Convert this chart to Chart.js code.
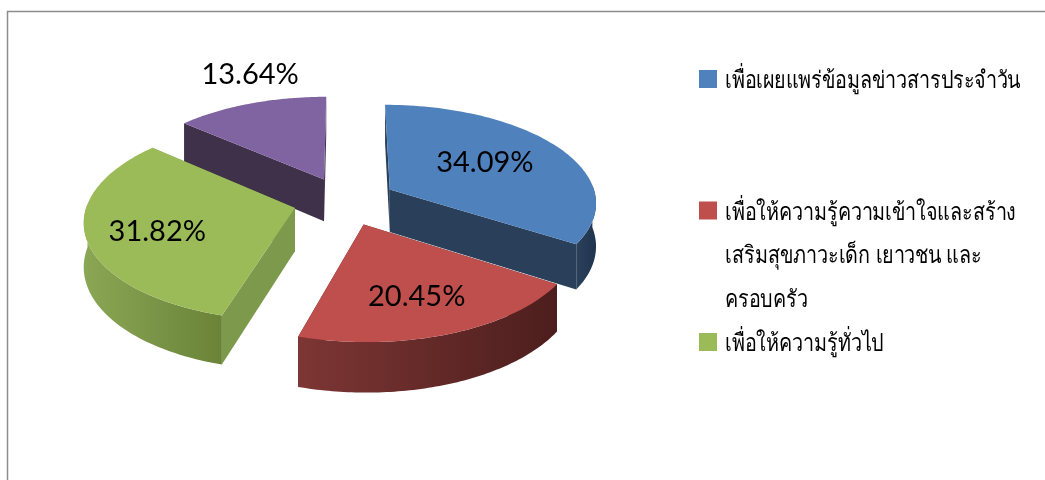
<!DOCTYPE html>
<html lang="th">
<head>
<meta charset="utf-8">
<style>
html,body{margin:0;padding:0;background:#fff;overflow:hidden}
#wrap{width:1045px;height:480px;position:relative}
</style>
<script src="https://cdn.jsdelivr.net/npm/chart.js@4"></script>
</head>
<body>
<div id="wrap"><canvas id="c" width="1045" height="480"></canvas></div>
<script>
const categories = [
  ["เพื่อเผยแพร่ข้อมูลข่าวสารประจำวัน"],
  ["เพื่อให้ความรู้ความเข้าใจและสร้าง", "เสริมสุขภาวะเด็ก เยาวชน และ", "ครอบครัว"],
  ["เพื่อให้ความรู้ทั่วไป"],
  [""]
];
const shares = [34.09, 20.45, 31.82, 13.64];
const topColors = ["#4F81BD", "#BE4F4C", "#9BBB59", "#8064A2"];
const cutColors = ["#2A3F59", "#5A2322", "#7D9A4C", "#3E3149"];
const wallFrom = ["#2B4059", "#7D3634", "#8AA755", "#3E3149"];
const wallTo = ["#1F344F", "#4C1E1D", "#6A8338", "#3E3149"];
const labelReach = [0.57, 0.68, 0.675, 1.38];
const labelTurn = [-1.5, 1, -2.8, 5.1];
const drawOrder = [3, 0, 2, 1];

const EXPLODE = 0.25, PERSP = 0.12, RX = 1.03, RY = 0.4846, DEPTH = 43;

const pie3d = {
  id: 'pie3d',
  beforeDraw(chart) {
    const { ctx, width, height } = chart;
    ctx.save();
    ctx.fillStyle = '#fff';
    ctx.fillRect(0, 0, width, height);
    ctx.strokeStyle = '#8c8c8c';
    ctx.lineWidth = 1.5;
    ctx.beginPath();
    ctx.moveTo(7.5, height);
    ctx.lineTo(7.5, 11.5);
    ctx.lineTo(width, 11.5);
    ctx.stroke();
    ctx.restore();
  },
  beforeDatasetsDraw(chart) {
    const { ctx } = chart;
    const arcs = chart.getDatasetMeta(0).data;
    const ref = arcs[0];
    const cx = ref.x, cy = ref.y;
    const rx = ref.outerRadius * RX, ry = ref.outerRadius * RY;
    const proj = (x, y, z) => {
      const s = 1 / (1 - PERSP * y);
      return [cx + rx * x * s, cy + (ry * y + DEPTH * z) * s];
    };
    const poly = pts => {
      ctx.beginPath();
      pts.forEach((p, i) => i ? ctx.lineTo(p[0], p[1]) : ctx.moveTo(p[0], p[1]));
      ctx.closePath();
    };
    drawOrder.forEach(i => {
      const a = arcs[i];
      const mid = (a.startAngle + a.endAngle) / 2;
      const ox = EXPLODE * Math.cos(mid), oy = EXPLODE * Math.sin(mid);
      const rim = [];
      for (let t = 0; t <= 80; t++) {
        const ang = a.startAngle + (a.endAngle - a.startAngle) * t / 80;
        rim.push([ox + Math.cos(ang), oy + Math.sin(ang)]);
      }
      const first = rim[0], last = rim[rim.length - 1];
      ctx.fillStyle = cutColors[i];
      [first, last].forEach(e => {
        poly([proj(ox, oy, 0), proj(e[0], e[1], 0), proj(e[0], e[1], 1), proj(ox, oy, 1)]);
        ctx.fill();
      });
      const visible = rim.filter(p => p[1] - oy > -0.06);
      if (visible.length > 1) {
        const xs = visible.map(p => proj(p[0], p[1], 0)[0]);
        const g = ctx.createLinearGradient(Math.min(...xs), 0, Math.max(...xs), 0);
        g.addColorStop(0, wallFrom[i]);
        g.addColorStop(1, wallTo[i]);
        ctx.fillStyle = g;
        poly(visible.map(p => proj(p[0], p[1], 0)).concat(
          visible.slice().reverse().map(p => proj(p[0], p[1], 1))));
        ctx.fill();
      }
      ctx.fillStyle = topColors[i];
      poly([proj(ox, oy, 0)].concat(rim.map(p => proj(p[0], p[1], 0))));
      ctx.fill();
    });
    ctx.fillStyle = '#000';
    ctx.font = '29px Lato';
    ctx.textAlign = 'center';
    ctx.textBaseline = 'middle';
    arcs.forEach((a, i) => {
      const mid = (a.startAngle + a.endAngle) / 2 + labelTurn[i] * Math.PI / 180;
      const r = EXPLODE + labelReach[i];
      const p = proj(r * Math.cos(mid), r * Math.sin(mid), 0);
      ctx.fillText(shares[i].toFixed(2) + '%', p[0], p[1]);
    });
    ctx.font = '24px "Liberation Serif", "DejaVu Serif", serif';
    ctx.textAlign = 'left';
    ctx.textBaseline = 'alphabetic';
    categories.forEach((lines, i) => {
      if (!lines[0]) return;
      const rowTop = 70 + i * 131.5;
      ctx.fillStyle = topColors[i];
      ctx.fillRect(699, rowTop, 18, 18);
      ctx.fillStyle = '#000';
      lines.forEach((line, j) => {
        ctx.save();
        ctx.translate(725, rowTop + 18 + j * 43.5);
        ctx.scale(0.823, 1);
        ctx.fillText(line, 0, 0);
        ctx.restore();
      });
    });
    return false;
  }
};

new Chart(document.getElementById('c'), {
  type: 'pie',
  data: {
    labels: categories.map(l => l.join(' ')),
    datasets: [{ data: shares, backgroundColor: topColors, borderWidth: 0 }]
  },
  options: {
    responsive: false,
    animation: false,
    events: [],
    layout: { padding: { left: 144, right: 499, top: 0, bottom: 78 } },
    plugins: { legend: { display: false }, tooltip: { enabled: false } }
  },
  plugins: [pie3d]
});
</script>
</body>
</html>
